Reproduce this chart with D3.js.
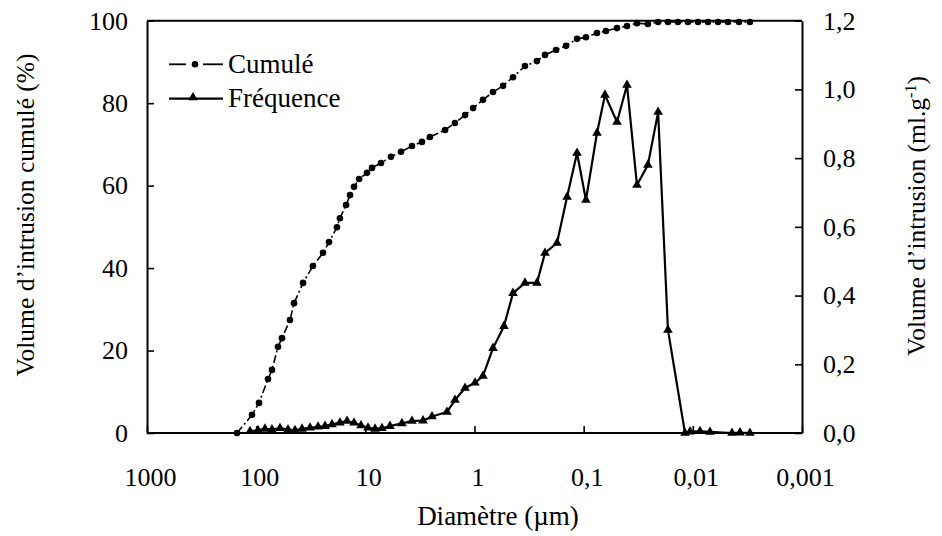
<!DOCTYPE html>
<html>
<head>
<meta charset="utf-8">
<script src="https://cdn.jsdelivr.net/npm/d3@7"></script>
<style>
  html, body { margin: 0; padding: 0; background: #ffffff; }
  svg { display: block; }
</style>
</head>
<body>
<svg id="chart" width="942" height="536"></svg>
<script>
// ---------- data ----------
const xTickValues = [1000, 100, 10, 1, 0.1, 0.01, 0.001];
const xTickLabels = ["1000", "100", "10", "1", "0,1", "0,01", "0,001"];
const yLeftTicks = [0, 20, 40, 60, 80, 100];
const yRightTicks = [0, 0.2, 0.4, 0.6, 0.8, 1.0, 1.2];
const yRightLabels = ["0,0", "0,2", "0,4", "0,6", "0,8", "1,0", "1,2"];

// Cumulative intrusion volume (%) vs pore diameter (µm)
const cumDiam = [149.8, 109.2, 94.2, 77.9, 71.6, 63.1, 58.0, 49.0, 45.0, 37.2, 30.2, 24.4, 21.5, 18.2, 17.1, 15.0, 13.8, 12.7, 11.4, 9.65, 8.69, 7.19, 5.82, 4.71, 3.74, 3.03, 2.56, 1.86, 1.51, 1.22, 1.03, 0.836, 0.677, 0.548, 0.444, 0.345, 0.268, 0.226, 0.179, 0.145, 0.115, 0.0953, 0.0755, 0.0625, 0.0495, 0.0401, 0.0325, 0.0258, 0.0208, 0.0169, 0.0137, 0.0111, 0.00897, 0.00726, 0.00588, 0.00476, 0.00378, 0.0030];
const cumPct = [0, 4.4, 7.3, 13.1, 15.3, 20.9, 23.0, 27.4, 31.5, 36.4, 40.5, 43.7, 46.3, 49.9, 52.1, 55.3, 57.7, 59.7, 61.6, 63.1, 64.3, 65.5, 67.0, 68.2, 69.6, 70.6, 71.8, 73.5, 75.2, 77.1, 78.8, 80.8, 82.7, 84.2, 86.3, 89.0, 90.2, 91.7, 92.9, 93.9, 95.6, 96.0, 97.0, 97.5, 98.2, 98.7, 99.4, 99.2, 99.7, 99.7, 99.7, 99.7, 99.7, 99.7, 99.7, 99.7, 99.7, 99.7];

// Frequency: intrusion volume (ml/g) vs pore diameter (µm)
const freqDiam = [113.9, 96.2, 83.0, 71.6, 60.5, 51.1, 44.1, 38.0, 32.1, 27.1, 23.4, 20.2, 17.1, 14.7, 12.7, 10.96, 9.45, 8.15, 7.04, 5.95, 4.62, 3.74, 2.96, 2.45, 1.79, 1.51, 1.22, 0.99, 0.836, 0.677, 0.537, 0.444, 0.345, 0.268, 0.226, 0.1755, 0.142, 0.115, 0.0953, 0.0755, 0.0638, 0.0495, 0.0401, 0.0325, 0.0258, 0.0208, 0.0169, 0.0118, 0.0106, 0.0086, 0.00697, 0.00438, 0.0037, 0.0030];
const freqVol = [0.005, 0.008, 0.012, 0.010, 0.014, 0.010, 0.008, 0.012, 0.015, 0.018, 0.020, 0.025, 0.030, 0.035, 0.030, 0.022, 0.015, 0.012, 0.014, 0.020, 0.028, 0.035, 0.036, 0.048, 0.061, 0.096, 0.131, 0.146, 0.166, 0.247, 0.311, 0.407, 0.437, 0.437, 0.524, 0.553, 0.687, 0.815, 0.678, 0.873, 0.984, 0.905, 1.013, 0.722, 0.780, 0.934, 0.300, 0.0, 0.004, 0.005, 0.003, 0.0, 0.001, 0.0];

const seriesNames = ["Cumulé", "Fréquence"];
const xTitle = "Diamètre (µm)";
const yLeftTitle = "Volume d\u2019intrusion cumulé (%)";

// ---------- layout ----------
const FONT = '"Liberation Serif", "Times New Roman", Tinos, serif';
const L = 147, R = 802, T = 20.7, B = 433;
const svg = d3.select("#chart");
svg.append("rect").attr("width", 942).attr("height", 536).attr("fill", "#ffffff");

const x = d3.scaleLog().domain([1000, 0.001]).range([L, R]);
const yL = d3.scaleLinear().domain([0, 100]).range([B, T]);
const yR = d3.scaleLinear().domain([0, 1.2]).range([B, T]);

const fs = 26;
function styleTicks(g) {
  g.selectAll(".tick text").style("font-family", FONT).style("font-size", fs + "px").attr("fill", "#000");
  g.selectAll(".tick line").attr("stroke-width", 1.6);
  g.select(".domain").attr("stroke-width", 2);
}

// frame top line
svg.append("line").attr("x1", L).attr("x2", R).attr("y1", T).attr("y2", T)
  .attr("stroke", "#000").attr("stroke-width", 2);

// x axis
const gx = svg.append("g").attr("transform", `translate(0,${B})`)
  .call(d3.axisBottom(x).tickValues(xTickValues)
    .tickFormat((d, i) => xTickLabels[i]).tickSizeInner(-7).tickSizeOuter(0).tickPadding(35));
styleTicks(gx);
gx.select(".domain").attr("d", `M${L},0H${R}`);
gx.selectAll(".tick text").attr("dx", 3);

// left axis
const gl = svg.append("g").attr("transform", `translate(${L},0)`)
  .call(d3.axisLeft(yL).tickValues(yLeftTicks).tickFormat(d3.format("d"))
    .tickSizeInner(-7).tickSizeOuter(0).tickPadding(19));
styleTicks(gl);

// right axis
const gr = svg.append("g").attr("transform", `translate(${R},0)`)
  .call(d3.axisRight(yR).tickValues(yRightTicks).tickFormat((d, i) => yRightLabels[i])
    .tickSizeInner(-7).tickSizeOuter(0).tickPadding(21));
styleTicks(gr);

// axis titles
svg.append("text").attr("x", 498).attr("y", 525).attr("text-anchor", "middle")
  .style("font-family", FONT).style("font-size", "27px").text(xTitle);
svg.append("text").attr("transform", "translate(34,215) rotate(-90)")
  .attr("text-anchor", "middle").style("font-family", FONT).style("font-size", "25.5px").text(yLeftTitle);
const rt = svg.append("text").attr("transform", "translate(925,216) rotate(-90)")
  .attr("text-anchor", "middle").style("font-family", FONT).style("font-size", "25.5px");
rt.append("tspan").text("Volume d\u2019intrusion (ml.g");
rt.append("tspan").attr("dy", -9).style("font-size", "16px").text("-1");
rt.append("tspan").attr("dy", 9).text(")");

// ---------- series ----------
const cumData = cumDiam.map((d, i) => ({ d, v: cumPct[i] }));
const freqData = freqDiam.map((d, i) => ({ d, v: freqVol[i] }));

const cumLine = d3.line().x(p => x(p.d)).y(p => yL(p.v));
const freqLine = d3.line().x(p => x(p.d)).y(p => yR(p.v));

svg.append("path").datum(cumData).attr("d", cumLine)
  .attr("fill", "none").attr("stroke", "#000").attr("stroke-width", 1.6)
  .attr("stroke-dasharray", "8,3,2,3");
svg.append("g").selectAll("circle").data(cumData).join("circle")
  .attr("cx", p => x(p.d)).attr("cy", p => yL(p.v)).attr("r", 3.3).attr("fill", "#000");

svg.append("path").datum(freqData).attr("d", freqLine)
  .attr("fill", "none").attr("stroke", "#000").attr("stroke-width", 2.2)
  .attr("stroke-linejoin", "round");
const tri = d3.symbol().type(d3.symbolTriangle).size(40);
svg.append("g").selectAll("path").data(freqData).join("path")
  .attr("d", tri).attr("transform", p => `translate(${x(p.d)},${yR(p.v)})`).attr("fill", "#000");

// ---------- legend ----------
const lg = svg.append("g");
lg.append("line").attr("x1", 169).attr("x2", 186).attr("y1", 64.3).attr("y2", 64.3)
  .attr("stroke", "#000").attr("stroke-width", 1.8);
lg.append("line").attr("x1", 203).attr("x2", 223).attr("y1", 64.3).attr("y2", 64.3)
  .attr("stroke", "#000").attr("stroke-width", 1.8);
lg.append("circle").attr("cx", 195).attr("cy", 64.3).attr("r", 3.3).attr("fill", "#000");
lg.append("text").attr("x", 228).attr("y", 73).style("font-family", FONT).style("font-size", "27px").text(seriesNames[0]);

lg.append("line").attr("x1", 169).attr("x2", 223).attr("y1", 98.7).attr("y2", 98.7)
  .attr("stroke", "#000").attr("stroke-width", 2.2);
lg.append("path").attr("d", tri).attr("transform", "translate(193,97.5)").attr("fill", "#000");
lg.append("text").attr("x", 228).attr("y", 107).style("font-family", FONT).style("font-size", "27px").text(seriesNames[1]);
</script>
</body>
</html>
